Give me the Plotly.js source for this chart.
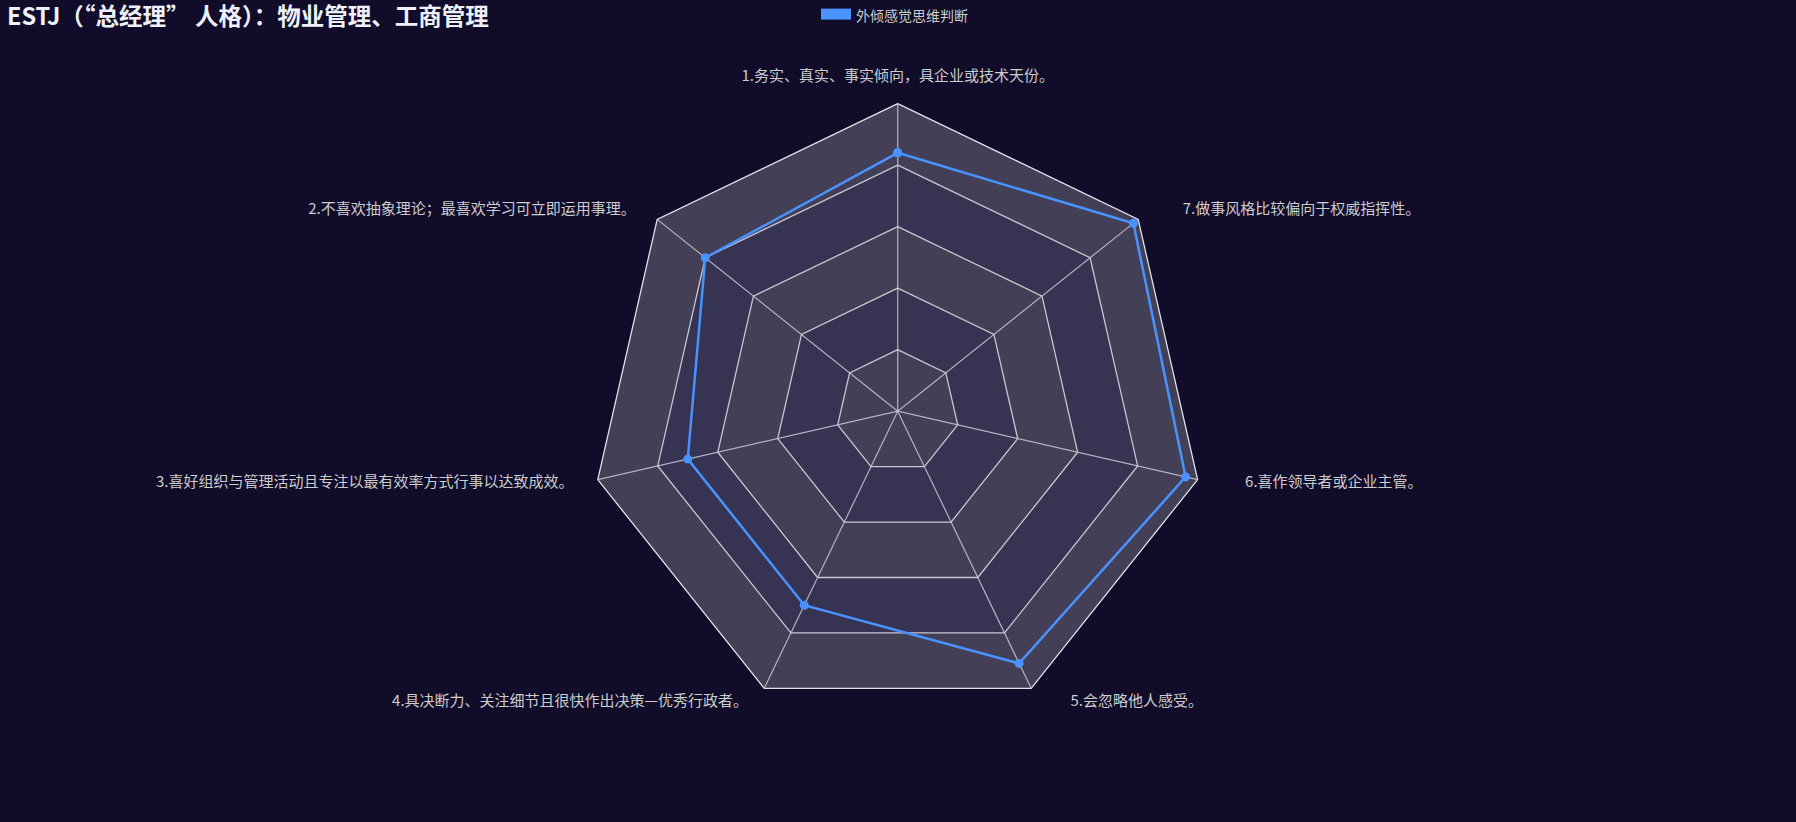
<!DOCTYPE html>
<html>
<head>
<meta charset="utf-8">
<script src="https://cdn.plot.ly/plotly-3.0.1.min.js"></script>
<style>
html,body{margin:0;padding:0;background:#100c2a;}
#chart{width:1796px;height:822px;}
</style>
</head>
<body>
<div id="chart"></div>
<script>
// ---- data ----
const chartTitle = "ESTJ（“总经理” 人格）：物业管理、工商管理";
const seriesName = "外倾感觉思维判断";
const indicators = [
  "1.务实、真实、事实倾向，具企业或技术天份。",
  "2.不喜欢抽象理论；最喜欢学习可立即运用事理。",
  "3.喜好组织与管理活动且专注以最有效率方式行事以达致成效。",
  "4.具决断力、关注细节且很快作出决策—优秀行政者。",
  "5.会忽略他人感受。",
  "6.喜作领导者或企业主管。",
  "7.做事风格比较偏向于权威指挥性。"
];
const values = [84, 80, 70, 70, 91, 96, 98];
const maxValue = 100;
const splitNumber = 5;

// ---- styles ----
const bandColors = ["#433f57", "#363353"]; // outer ring first, alternating
const gridColor = "rgba(215,215,222,0.9)";
const seriesColor = "#4992ff";
const labelColor = "#cccccc";
const font = '"Noto Sans CJK SC", "Noto Sans", sans-serif';
const nameGapFactor = 1.0487;   // name anchor radius relative to the outer ring
const rangePad = 1.06;          // radial room kept for the names

const closedTheta = indicators.concat([indicators[0]]);
const traces = [];

// split area bands (drawn from outermost to innermost)
for (let k = splitNumber; k >= 1; k--) {
  const level = maxValue * k / splitNumber;
  traces.push({
    type: "scatterpolar",
    mode: "lines",
    theta: closedTheta,
    r: closedTheta.map(() => level),
    fill: "toself",
    fillcolor: bandColors[(splitNumber - k) % 2],
    line: {color: k === splitNumber ? "rgba(235,235,240,0.95)" : gridColor, width: 1.3},
    hoverinfo: "skip",
    showlegend: false
  });
}

// axis spokes
const spokeTheta = [], spokeR = [];
indicators.forEach(c => { spokeTheta.push(c, c, null); spokeR.push(0, maxValue, null); });
traces.push({
  type: "scatterpolar",
  mode: "lines",
  theta: spokeTheta,
  r: spokeR,
  connectgaps: false,
  line: {color: "rgba(200,200,210,0.85)", width: 1.2},
  hoverinfo: "skip",
  showlegend: false
});

// data series
traces.push({
  type: "scatterpolar",
  mode: "lines+markers",
  name: seriesName,
  theta: closedTheta,
  r: values.concat([values[0]]),
  line: {color: seriesColor, width: 2.5},
  marker: {color: seriesColor, size: 9, line: {width: 0}},
  showlegend: false
});

// indicator names, placed outside the outer ring like radar axis names
const n = indicators.length;
const namePos = [], nameOffset = [];
indicators.forEach((c, i) => {
  const ang = (90 + i * 360 / n) * Math.PI / 180;
  const cs = Math.cos(ang), sn = Math.sin(ang);
  if (cs > 0.1) { namePos.push("middle right"); nameOffset.push(51); }
  else if (cs < -0.1) { namePos.push("middle left"); nameOffset.push(14); }
  else if (sn > 0) { namePos.push("top center"); nameOffset.push(4.4); }
  else { namePos.push("bottom center"); nameOffset.push(4.4); }
});
traces.push({
  type: "scatterpolar",
  mode: "markers+text",
  theta: indicators,
  r: indicators.map(() => maxValue * nameGapFactor),
  text: indicators,
  textposition: namePos,
  textfont: {family: font, size: 15, color: labelColor},
  marker: {size: nameOffset, color: "rgba(0,0,0,0)", opacity: 0, line: {width: 0, color: "rgba(0,0,0,0)"}},
  cliponaxis: false,
  hoverinfo: "skip",
  showlegend: false
});

// legend entry
traces.push({
  type: "scatterpolar",
  mode: "lines",
  name: seriesName,
  theta: [null],
  r: [null],
  fill: "toself",
  fillcolor: seriesColor,
  line: {color: seriesColor, width: 10},
  showlegend: true
});

// polar domain: outer ring radius 308px centred at (897.7, 410.7)
const cx = 897.7, cy = 410.7, ringPx = 308, W = 1796, H = 822;
const domPx = ringPx * rangePad;

const layout = {
  width: W,
  height: H,
  paper_bgcolor: "#100c2a",
  plot_bgcolor: "#100c2a",
  margin: {l: 0, r: 0, t: 0, b: 0},
  font: {family: font, color: labelColor, size: 14},
  title: {
    text: "<b>" + chartTitle + "</b>",
    font: {family: font, size: 23.5, color: "#eef1fa"},
    x: 7 / W, xref: "paper", xanchor: "left",
    y: 1 - 17 / H, yref: "container", yanchor: "middle"
  },
  showlegend: true,
  legend: {
    orientation: "h",
    x: 816 / W, xanchor: "left",
    y: 1 + 1 / H, yanchor: "top",
    font: {family: font, size: 14, color: labelColor},
    bgcolor: "rgba(0,0,0,0)"
  },
  polar: {
    domain: {
      x: [(cx - domPx) / W, (cx + domPx) / W],
      y: [(H - cy - domPx) / H, (H - cy + domPx) / H]
    },
    bgcolor: "rgba(0,0,0,0)",
    gridshape: "linear",
    radialaxis: {visible: false, range: [0, maxValue * rangePad], showgrid: false},
    angularaxis: {
      type: "category",
      categoryorder: "array",
      categoryarray: indicators,
      rotation: 90,
      direction: "counterclockwise",
      showgrid: false,
      showline: false,
      showticklabels: false,
      ticks: ""
    }
  }
};

Plotly.newPlot("chart", traces, layout, {displayModeBar: false, staticPlot: true});
</script>
</body>
</html>
